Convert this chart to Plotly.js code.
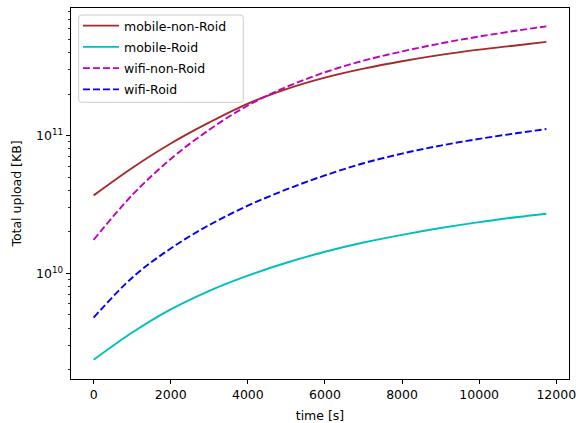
<!DOCTYPE html>
<html>
<head>
<meta charset="utf-8">
<script src="https://cdn.plot.ly/plotly-3.0.1.min.js"></script>
<style>
html,body{margin:0;padding:0;background:#fff;}
#chart{width:576px;height:423px;}
</style>
</head>
<body>
<div id="chart"></div>
<script>
// time [s]
var timeS = [0, 1000, 2000, 3000, 4000, 5000, 6000, 7000, 8000, 9000, 10000, 11000, 11743];
// Total upload [KB]
var mobileNonRoid = [3.681e10, 5.82e10, 8.75e10, 1.245e11, 1.706e11, 2.173e11, 2.630e11, 3.055e11, 3.459e11, 3.846e11, 4.198e11, 4.519e11, 4.775e11];
var mobileRoid    = [2.360e9, 3.724e9, 5.483e9, 7.482e9, 9.638e9, 1.194e10, 1.435e10, 1.675e10, 1.905e10, 2.133e10, 2.355e10, 2.564e10, 2.710e10];
var wifiNonRoid   = [1.750e10, 3.698e10, 6.761e10, 1.102e11, 1.652e11, 2.249e11, 2.877e11, 3.491e11, 4.074e11, 4.656e11, 5.224e11, 5.781e11, 6.194e11];
var wifiRoid      = [4.775e9, 9.311e9, 1.517e10, 2.244e10, 3.097e10, 4.064e10, 5.140e10, 6.295e10, 7.396e10, 8.453e10, 9.462e10, 1.042e11, 1.114e11];

var seriesNames = ['mobile-non-Roid', 'mobile-Roid', 'wifi-non-Roid', 'wifi-Roid'];
var xTickVals = [0, 2000, 4000, 6000, 8000, 10000, 12000];
var xTickText = ['0', '2000', '4000', '6000', '8000', '10000', '12000'];
var yTickVals = [1e10, 1e11];
var yTickText = ['10<sup>10</sup>', '10<sup>11</sup>'];
var yMinorVals = [2e9,3e9,4e9,5e9,6e9,7e9,8e9,9e9,2e10,3e10,4e10,5e10,6e10,7e10,8e10,9e10,2e11,3e11,4e11,5e11,6e11,7e11,8e11,9e11];

var W = 576, H = 423, ML = 71, MR = 7, MT = 8, MB = 44;
var PW = W - ML - MR, PH = H - MT - MB;

var dashPat = '7px,3px';
function tr(y, name, color, dash) {
  return {
    x: timeS, y: y, name: name, type: 'scatter', mode: 'lines',
    line: {color: color, width: 1.9, dash: dash, shape: 'spline', smoothing: 1},
    legendgroup: name
  };
}
var data = [
  tr(mobileNonRoid, seriesNames[0], '#A52A2A', 'solid'),
  tr(mobileRoid, seriesNames[1], '#00BFBF', 'solid'),
  tr(wifiNonRoid, seriesNames[2], '#BF00BF', dashPat),
  tr(wifiRoid, seriesNames[3], '#0000FF', dashPat)
];

// legend frame (rounded) in paper coords, from pixel box
function px2x(p) { return (p - ML) / PW; }
function px2y(p) { return 1 - (p - MT) / PH; }
var bx0 = 78.7, bx1 = 243.3, by0 = 15, by1 = 102.3, r = 3;
var rx = r / PW, ry = r / PH;
var X0 = px2x(bx0), X1 = px2x(bx1), Y0 = px2y(by0), Y1 = px2y(by1);
var framePath = 'M' + (X0 + rx) + ',' + Y0 +
  ' L' + (X1 - rx) + ',' + Y0 + ' Q' + X1 + ',' + Y0 + ' ' + X1 + ',' + (Y0 - ry) +
  ' L' + X1 + ',' + (Y1 + ry) + ' Q' + X1 + ',' + Y1 + ' ' + (X1 - rx) + ',' + Y1 +
  ' L' + (X0 + rx) + ',' + Y1 + ' Q' + X0 + ',' + Y1 + ' ' + X0 + ',' + (Y1 + ry) +
  ' L' + X0 + ',' + (Y0 - ry) + ' Q' + X0 + ',' + Y0 + ' ' + (X0 + rx) + ',' + Y0 + ' Z';

var font = {family: 'DejaVu Sans, sans-serif', size: 12.5, color: '#000'};
var layout = {
  width: W, height: H,
  margin: {l: ML, r: MR, t: MT, b: MB, pad: 0},
  paper_bgcolor: '#fff', plot_bgcolor: '#fff',
  font: font,
  showlegend: true,
  legend: {
    x: px2x(78), y: px2y(11), xanchor: 'left', yanchor: 'top',
    bgcolor: 'rgba(0,0,0,0)', bordercolor: 'rgba(0,0,0,0)', borderwidth: 0,
    font: font, tracegroupgap: 2, traceorder: 'grouped', itemwidth: 36
  },
  shapes: [{
    type: 'path', xref: 'paper', yref: 'paper', path: framePath, layer: 'above',
    fillcolor: 'rgba(255,255,255,0.8)', line: {color: '#cccccc', width: 1}
  }],
  xaxis: {
    range: [-587, 12330], tickmode: 'array', tickvals: xTickVals, ticktext: xTickText,
    ticks: 'outside', ticklen: 4.4, tickwidth: 1, tickcolor: '#000',
    showline: true, linecolor: '#000', linewidth: 1, mirror: true,
    showgrid: false, zeroline: false, ticklabeloverflow: 'allow',
    title: {text: 'time [s]', font: font, standoff: 11},
    automargin: false
  },
  yaxis: {
    type: 'log', range: [9.234, 11.925], tickmode: 'array', tickvals: yTickVals, ticktext: yTickText,
    ticks: 'outside', ticklen: 4.4, tickwidth: 1, tickcolor: '#000',
    showline: true, linecolor: '#000', linewidth: 1, mirror: true,
    showgrid: false, zeroline: false,
    minor: {tickmode: 'array', tickvals: yMinorVals, ticks: 'outside', ticklen: 2.5, tickwidth: 0.8, tickcolor: '#000', showgrid: false},
    title: {text: 'Total upload [KB]', font: font, standoff: 11},
    automargin: false
  }
};
Plotly.newPlot('chart', data, layout, {displayModeBar: false, staticPlot: true});
</script>
</body>
</html>
